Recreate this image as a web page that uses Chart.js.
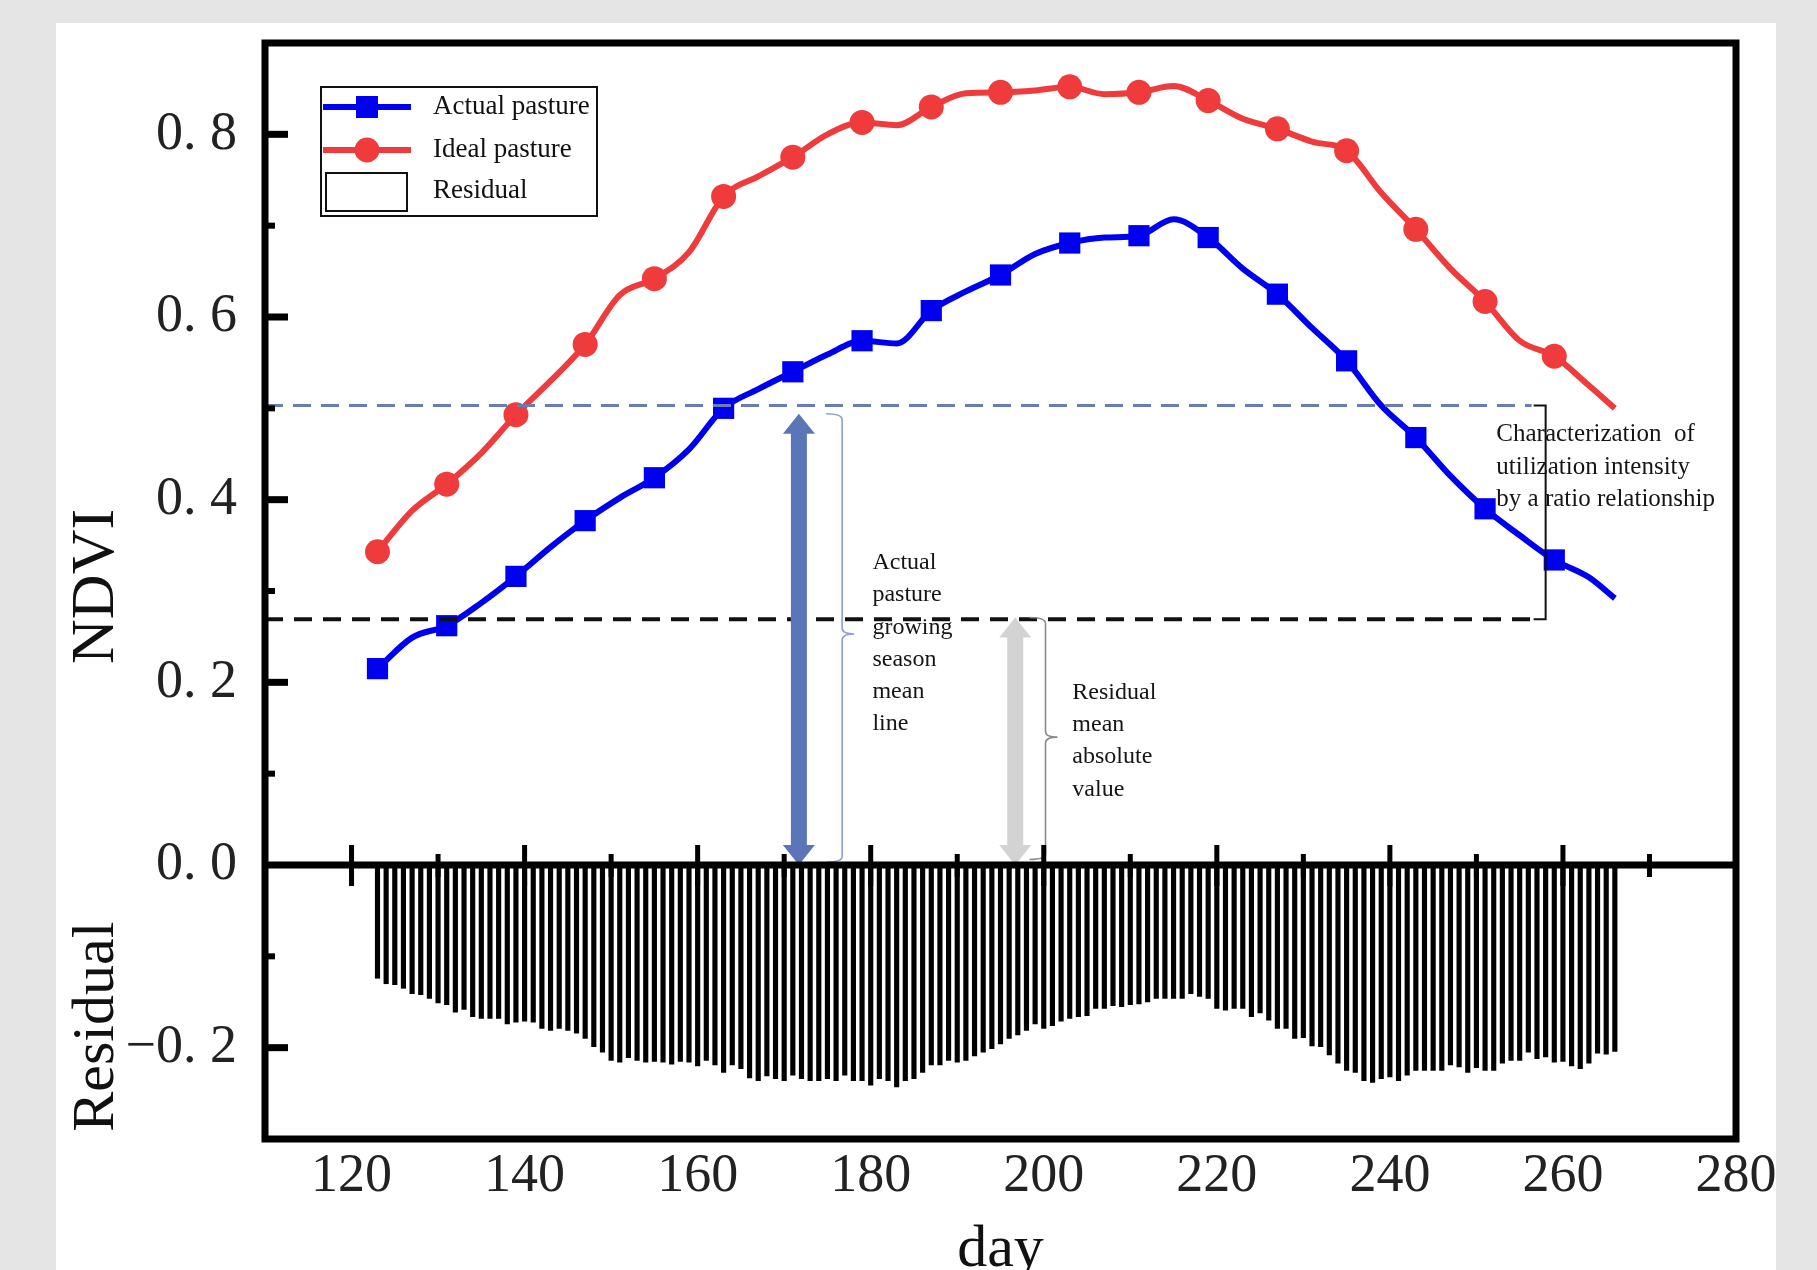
<!DOCTYPE html>
<html>
<head>
<meta charset="utf-8">
<script src="https://cdn.jsdelivr.net/npm/chart.js@4.4.1/dist/chart.umd.min.js"></script>
<style>
    html, body { margin: 0; padding: 0; background: #e5e5e5; }
    #wrap { position: relative; width: 1817px; height: 1270px; }
</style>
</head>
<body>
<div id="wrap"><canvas id="ndviChart"></canvas></div>
<script>
// Curvas NDVI (lidas a cada 4 dias)
const days = [123, 127, 131, 135, 139, 143, 147, 151, 155, 159, 163, 167, 171, 175, 179, 183, 187, 191, 195,
              199, 203, 207, 211, 215, 219, 223, 227, 231, 235, 239, 243, 247, 251, 255, 259, 263, 266];
const actualPasture = [0.215, 0.249, 0.262, 0.287, 0.316, 0.348, 0.377, 0.402, 0.424, 0.455, 0.500, 0.521, 0.540,
                       0.559, 0.574, 0.571, 0.607, 0.628, 0.646, 0.669, 0.681, 0.687, 0.689, 0.707, 0.687, 0.653,
                       0.625, 0.588, 0.552, 0.503, 0.468, 0.426, 0.390, 0.361, 0.334, 0.315, 0.292];
const idealPasture = [0.343, 0.388, 0.417, 0.451, 0.493, 0.530, 0.570, 0.624, 0.642, 0.671, 0.732, 0.754, 0.775,
                      0.800, 0.813, 0.810, 0.830, 0.845, 0.846, 0.848, 0.852, 0.844, 0.846, 0.853, 0.837, 0.817,
                      0.806, 0.792, 0.782, 0.736, 0.696, 0.653, 0.617, 0.574, 0.557, 0.525, 0.500];
// dias com marcador
const markerDays = [123, 131, 139, 147, 155, 163, 171, 179, 187, 195, 203, 211, 219, 227, 235, 243, 251, 259];

// Residual diario, a partir do dia 123
const residualFirstDay = 123;
const residual = [
    -0.124, -0.130, -0.131, -0.135, -0.141, -0.142, -0.146, -0.151, -0.153, -0.161,
    -0.158, -0.166, -0.168, -0.168, -0.168, -0.174, -0.172, -0.171, -0.172, -0.179,
    -0.181, -0.179, -0.181, -0.184, -0.190, -0.199, -0.205, -0.214, -0.216, -0.211,
    -0.214, -0.216, -0.215, -0.216, -0.218, -0.215, -0.216, -0.220, -0.214, -0.219,
    -0.227, -0.219, -0.223, -0.233, -0.236, -0.231, -0.234, -0.236, -0.230, -0.234,
    -0.236, -0.236, -0.234, -0.236, -0.230, -0.236, -0.236, -0.241, -0.234, -0.236,
    -0.243, -0.236, -0.234, -0.227, -0.219, -0.219, -0.214, -0.216, -0.214, -0.209,
    -0.205, -0.201, -0.196, -0.190, -0.186, -0.181, -0.174, -0.179, -0.176, -0.171,
    -0.168, -0.166, -0.165, -0.157, -0.157, -0.154, -0.155, -0.153, -0.152, -0.150,
    -0.146, -0.146, -0.146, -0.146, -0.141, -0.144, -0.146, -0.157, -0.159, -0.157,
    -0.157, -0.166, -0.162, -0.170, -0.179, -0.179, -0.190, -0.189, -0.198, -0.199,
    -0.208, -0.217, -0.225, -0.227, -0.236, -0.238, -0.234, -0.232, -0.236, -0.230,
    -0.225, -0.225, -0.225, -0.225, -0.219, -0.221, -0.227, -0.222, -0.225, -0.225,
    -0.217, -0.214, -0.214, -0.205, -0.212, -0.210, -0.216, -0.215, -0.220, -0.223,
    -0.217, -0.206, -0.207, -0.204
];

// Eixos
const xTicks = [120, 140, 160, 180, 200, 220, 240, 260, 280];
const xMinorTicks = [130, 150, 170, 190, 210, 230, 250, 270];
const yTicks = [-0.2, 0, 0.2, 0.4, 0.6, 0.8];
const yMinorTicks = [-0.1, 0.1, 0.3, 0.5, 0.7];

// Linhas de referencia
const meanLineActual = 0.503;
const meanResidualAbs = 0.269;

const AZUL = '#0000f0';
const VERMELHO = '#ef3b3b';
const FONTE = "'Liberation Serif', 'Times New Roman', serif";

// Anotacoes (em unidades de dados)
const anot = {
    setaAzul: { dia: 171.7, de: 0, ate: 0.494 },
    chaveAzul: { dia: 176.7, de: 0.494, ate: 0.003, meio: 0.253 },
    textoAzul: { dia: 180.2, y: 0.331, linhas: ['Actual', 'pasture', 'growing', 'season', 'mean', 'line'] },
    setaCinza: { dia: 196.7, de: 0, ate: 0.271 },
    chaveCinza: { dia: 200.2, de: 0.271, ate: 0.006, meio: 0.140 },
    textoCinza: { dia: 203.3, y: 0.189, linhas: ['Residual', 'mean', 'absolute', 'value'] },
    colchete: { dia: 258 },
    textoRazao: { dia: 252.3, linhas: ['Characterization  of', 'utilization intensity', 'by a ratio relationship'] }
};

function formatarY(v) {
    const n = Math.round(Math.abs(v) * 10);
    return (v < 0 ? '\u22120. ' : '0. ') + n;
}

function seta(c, x, yTop, yBot, cor) {
    const haste = 16, cabeca = 32, comp = 20;
    c.fillStyle = cor;
    c.beginPath();
    c.moveTo(x, yTop);
    c.lineTo(x + cabeca / 2, yTop + comp);
    c.lineTo(x + haste / 2, yTop + comp);
    c.lineTo(x + haste / 2, yBot - comp);
    c.lineTo(x + cabeca / 2, yBot - comp);
    c.lineTo(x, yBot);
    c.lineTo(x - cabeca / 2, yBot - comp);
    c.lineTo(x - haste / 2, yBot - comp);
    c.lineTo(x - haste / 2, yTop + comp);
    c.lineTo(x - cabeca / 2, yTop + comp);
    c.closePath();
    c.fill();
}

function chave(c, x, yTop, yBot, yMid, cor) {
    c.strokeStyle = cor;
    c.lineWidth = 1.6;
    c.beginPath();
    c.moveTo(x - 16, yTop);
    c.quadraticCurveTo(x, yTop, x, yTop + 6);
    c.lineTo(x, yMid - 6);
    c.quadraticCurveTo(x, yMid, x + 12, yMid);
    c.quadraticCurveTo(x, yMid, x, yMid + 6);
    c.lineTo(x, yBot - 6);
    c.quadraticCurveTo(x, yBot, x - 16, yBot);
    c.stroke();
}

const fundoPlugin = {
    id: 'fundo',
    beforeDraw(chart) {
        const c = chart.ctx;
        c.save();
        c.fillStyle = '#e5e5e5';
        c.fillRect(0, 0, chart.width, chart.height);
        c.fillStyle = '#ffffff';
        c.fillRect(56, 23, 1720, chart.height - 23);
        c.restore();
    }
};

const anotacoesPlugin = {
    id: 'anotacoes',
    afterDatasetsDraw(chart) {
        const c = chart.ctx;
        const xs = chart.scales.x, ys = chart.scales.y;
        const area = chart.chartArea;
        const px = d => xs.getPixelForValue(d);
        const py = v => ys.getPixelForValue(v);
        const xCol = px(anot.colchete.dia);
        c.save();

        // linha media (azul tracejada)
        c.strokeStyle = '#6b7bb5';
        c.lineWidth = 3;
        c.setLineDash([18, 10]);
        c.beginPath();
        c.moveTo(area.left, py(meanLineActual));
        c.lineTo(xCol - 14, py(meanLineActual));
        c.stroke();

        // residual medio (preta tracejada)
        c.strokeStyle = '#111';
        c.lineWidth = 4;
        c.setLineDash([18, 11]);
        c.beginPath();
        c.moveTo(area.left, py(meanResidualAbs));
        c.lineTo(xCol - 14, py(meanResidualAbs));
        c.stroke();
        c.setLineDash([]);

        // colchete da razao
        c.strokeStyle = '#111';
        c.lineWidth = 2;
        c.beginPath();
        c.moveTo(xCol - 12, py(meanLineActual));
        c.lineTo(xCol, py(meanLineActual));
        c.lineTo(xCol, py(meanResidualAbs));
        c.lineTo(xCol - 12, py(meanResidualAbs));
        c.stroke();

        // setas
        seta(c, px(anot.setaAzul.dia), py(anot.setaAzul.ate), py(anot.setaAzul.de), '#5a75b8');
        seta(c, px(anot.setaCinza.dia), py(anot.setaCinza.ate), py(anot.setaCinza.de), '#d3d3d3');

        chave(c, px(anot.chaveAzul.dia), py(anot.chaveAzul.de), py(anot.chaveAzul.ate), py(anot.chaveAzul.meio), '#8d9dd0');
        chave(c, px(anot.chaveCinza.dia), py(anot.chaveCinza.de), py(anot.chaveCinza.ate), py(anot.chaveCinza.meio), '#8a8a8a');

        // textos
        c.fillStyle = '#151515';
        c.font = '24px ' + FONTE;
        c.textAlign = 'left';
        c.textBaseline = 'middle';
        anot.textoAzul.linhas.forEach((t, i) => c.fillText(t, px(anot.textoAzul.dia), py(anot.textoAzul.y) + i * 32.3));
        anot.textoCinza.linhas.forEach((t, i) => c.fillText(t, px(anot.textoCinza.dia), py(anot.textoCinza.y) + i * 32.3));
        c.font = '25px ' + FONTE;
        anot.textoRazao.linhas.forEach((t, i) => c.fillText(t, px(anot.textoRazao.dia), py(meanLineActual) + 29 + i * 32.5));
        c.restore();
    },
    afterDraw(chart) {
        const c = chart.ctx;
        const xs = chart.scales.x, ys = chart.scales.y;
        const a = chart.chartArea;
        const y0 = ys.getPixelForValue(0);
        c.save();
        c.strokeStyle = '#000';
        c.fillStyle = '#000';

        // moldura
        c.lineWidth = 7;
        c.strokeRect(a.left, a.top, a.right - a.left, a.bottom - a.top);
        // eixo zero
        c.beginPath();
        c.moveTo(a.left, y0);
        c.lineTo(a.right, y0);
        c.stroke();

        // ticks do eixo x sobre o zero
        xTicks.forEach(v => {
            if (v >= 280) return;
            const x = xs.getPixelForValue(v);
            c.fillRect(x - 2.5, y0 - 20, 5, 41);
        });
        xMinorTicks.forEach(v => {
            const x = xs.getPixelForValue(v);
            c.fillRect(x - 2.5, y0 - 11, 5, 23);
        });

        // ticks do eixo y (para dentro)
        yTicks.forEach(v => {
            if (v === 0) return;
            const y = ys.getPixelForValue(v);
            c.fillRect(a.left, y - 3.5, 23, 7);
        });
        yMinorTicks.forEach(v => {
            const y = ys.getPixelForValue(v);
            c.fillRect(a.left, y - 3, 10, 6);
        });

        // titulos
        c.fillStyle = '#111';
        c.textAlign = 'center';
        c.textBaseline = 'middle';
        c.font = '62px ' + FONTE;
        c.save();
        c.translate(97, ys.getPixelForValue(0.305));
        c.rotate(-Math.PI / 2);
        c.fillText('NDVI', 0, 0);
        c.restore();
        c.font = '60px ' + FONTE;
        c.save();
        c.translate(97, ys.getPixelForValue(-0.177));
        c.rotate(-Math.PI / 2);
        c.fillText('Residual', 0, 0);
        c.restore();
        c.textBaseline = 'alphabetic';
        c.fillText('day', (a.left + a.right) / 2, 1266);

        // legenda
        c.lineWidth = 2;
        c.strokeStyle = '#111';
        c.strokeRect(321, 87, 276, 129);
        c.lineWidth = 6;
        c.strokeStyle = AZUL;
        c.beginPath(); c.moveTo(323, 107); c.lineTo(411, 107); c.stroke();
        c.fillStyle = AZUL;
        c.fillRect(356, 96, 22, 22);
        c.strokeStyle = VERMELHO;
        c.beginPath(); c.moveTo(323, 150); c.lineTo(411, 150); c.stroke();
        c.fillStyle = VERMELHO;
        c.beginPath(); c.arc(367, 150, 12.5, 0, Math.PI * 2); c.fill();
        c.lineWidth = 2;
        c.strokeStyle = '#111';
        c.strokeRect(326, 173, 81, 38);
        c.fillStyle = '#111';
        c.font = '27px ' + FONTE;
        c.textAlign = 'left';
        c.textBaseline = 'middle';
        c.fillText('Actual pasture', 433, 107);
        c.fillText('Ideal pasture', 433, 150);
        c.fillText('Residual', 433, 191);
        c.restore();
    }
};

function pontoRaio(r) {
    return ctx => (ctx.type === 'data' && markerDays.includes(ctx.raw.x)) ? r : 0;
}

// sem folga extra dos rotulos: a area do grafico fica onde o layout manda
function semFolga(s) {
    s.paddingTop = 0;
    s.paddingBottom = 0;
    s.paddingLeft = 0;
    s.paddingRight = 0;
}

const ctx = document.getElementById('ndviChart').getContext('2d');
new Chart(ctx, {
    type: 'bar',
    data: {
        datasets: [{
            type: 'line',
            label: 'Actual pasture',
            data: days.map((d, i) => ({ x: d, y: actualPasture[i] })),
            borderColor: AZUL,
            backgroundColor: AZUL,
            borderWidth: 6,
            tension: 0.4,
            cubicInterpolationMode: 'monotone',
            pointStyle: 'rect',
            pointRadius: pontoRaio(15),
            pointHoverRadius: pontoRaio(15),
            pointBorderWidth: 0,
            order: 1
        }, {
            type: 'line',
            label: 'Ideal pasture',
            data: days.map((d, i) => ({ x: d, y: idealPasture[i] })),
            borderColor: VERMELHO,
            backgroundColor: VERMELHO,
            borderWidth: 6,
            tension: 0.4,
            cubicInterpolationMode: 'monotone',
            pointStyle: 'circle',
            pointRadius: pontoRaio(12.5),
            pointHoverRadius: pontoRaio(12.5),
            pointBorderWidth: 0,
            order: 2
        }, {
            type: 'bar',
            label: 'Residual',
            data: residual.map((v, i) => ({ x: residualFirstDay + i, y: v })),
            backgroundColor: '#000',
            barThickness: 4.5,
            order: 3
        }]
    },
    options: {
        responsive: true,
        maintainAspectRatio: false,
        animation: false,
        layout: { padding: { top: 43, right: 81, left: 0, bottom: 0 } },
        plugins: { legend: { display: false }, tooltip: { enabled: false } },
        scales: {
            x: {
                type: 'linear',
                min: 110,
                max: 280,
                offset: false,
                grid: { display: false, drawTicks: false, offset: false },
                border: { display: false },
                ticks: {
                    font: { size: 54, family: FONTE },
                    color: '#222',
                    padding: 5,
                    maxRotation: 0,
                    autoSkip: false
                },
                afterBuildTicks: s => { s.ticks = xTicks.map(v => ({ value: v })); },
                afterFit: s => { s.height = 131; semFolga(s); }
            },
            y: {
                type: 'linear',
                min: -0.3,
                max: 0.9,
                grid: { display: false, drawTicks: false },
                border: { display: false },
                ticks: {
                    font: { size: 54, family: FONTE },
                    color: '#222',
                    padding: 28,
                    autoSkip: false,
                    callback: v => formatarY(v)
                },
                afterBuildTicks: s => { s.ticks = yTicks.map(v => ({ value: v })); },
                afterFit: s => { s.width = 265; semFolga(s); }
            }
        }
    },
    plugins: [fundoPlugin, anotacoesPlugin]
});
</script>
</body>
</html>
